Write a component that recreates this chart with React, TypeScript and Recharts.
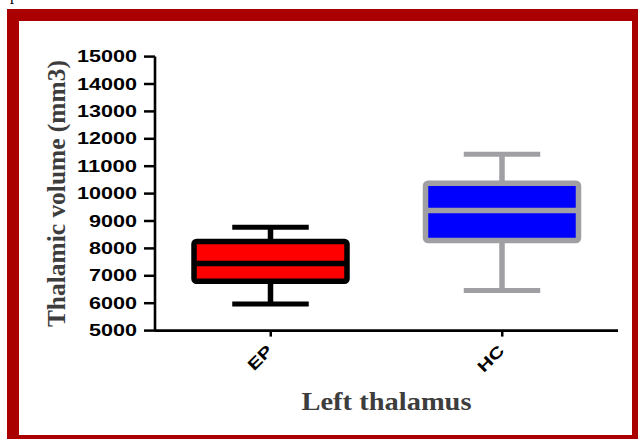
import React from 'react';
import { BarChart, Bar, XAxis, YAxis, Label } from 'recharts';

const categories = ['EP', 'HC'];
const minValues = [5970, 6460];
const q1Values = [6800, 8290];
const medianValues = [7450, 9380];
const q3Values = [8250, 10380];
const maxValues = [8770, 11440];
const yTicks = [5000, 6000, 7000, 8000, 9000, 10000, 11000, 12000, 13000, 14000, 15000];

const boxStyles: Record<string, { fill: string; stroke: string }> = {
  EP: { fill: '#ff0000', stroke: '#000000' },
  HC: { fill: '#0000ff', stroke: '#a0a0a4' },
};

const data = categories.map((name, i) => ({
  name,
  min: minValues[i],
  q1: q1Values[i],
  median: medianValues[i],
  q3: q3Values[i],
  max: maxValues[i],
  range: [minValues[i], maxValues[i]],
}));

const BoxShape = (props: any) => {
  const { x, y, width, height, payload } = props;
  const top = Math.min(y, y + height);
  const bottom = Math.max(y, y + height);
  const span = bottom - top;
  const py = (v: number) => bottom - ((v - payload.min) / (payload.max - payload.min)) * span;
  const cx = x + width / 2;
  const capHalf = width / 4;
  const st = boxStyles[payload.name];
  return (
    <g>
      <line x1={cx} x2={cx} y1={py(payload.max)} y2={py(payload.q3)} stroke={st.stroke} strokeWidth={5.5} />
      <line x1={cx} x2={cx} y1={py(payload.q1)} y2={py(payload.min)} stroke={st.stroke} strokeWidth={5.5} />
      <line x1={cx - capHalf} x2={cx + capHalf} y1={py(payload.max)} y2={py(payload.max)} stroke={st.stroke} strokeWidth={5} />
      <line x1={cx - capHalf} x2={cx + capHalf} y1={py(payload.min)} y2={py(payload.min)} stroke={st.stroke} strokeWidth={5} />
      <rect
        x={x}
        y={py(payload.q3)}
        width={width}
        height={py(payload.q1) - py(payload.q3)}
        fill={st.fill}
        stroke={st.stroke}
        strokeWidth={5.5}
        rx={2.5}
      />
      <line x1={x} x2={x + width} y1={py(payload.median)} y2={py(payload.median)} stroke={st.stroke} strokeWidth={5.5} />
    </g>
  );
};

const YTick = (props: any) => {
  const { x, y, payload } = props;
  const s = String(payload.value);
  return (
    <text
      x={x}
      y={y}
      dy="0.36em"
      textAnchor="end"
      fontFamily="'Liberation Sans', Arial, sans-serif"
      fontWeight="bold"
      fontSize={15.8}
      fill="#000"
      textLength={s.length * 12}
      lengthAdjust="spacingAndGlyphs"
    >
      {s}
    </text>
  );
};

const XTick = (props: any) => {
  const { x, y, payload } = props;
  const s = String(payload.value);
  const ax = x + 3;
  const ay = y + 13;
  return (
    <text
      x={ax}
      y={ay}
      textAnchor="end"
      transform={`rotate(-45, ${ax}, ${ay})`}
      fontFamily="'Liberation Sans', Arial, sans-serif"
      fontWeight="bold"
      fontSize={15.8}
      fill="#000"
      textLength={s === 'EP' ? 28 : 30.5}
      lengthAdjust="spacingAndGlyphs"
    >
      {s}
    </text>
  );
};

export default function App() {
  return (
    <div style={{ position: 'absolute', left: 0, top: 0, width: 638, height: 439, overflow: 'hidden', background: '#fff' }}>
      <svg width={40} height={10} style={{ position: 'absolute', left: 0, top: 0 }}>
        <text x={10} y={0} fontFamily="'Liberation Serif', 'Times New Roman', serif" fontSize={16} fill="#000">
          p
        </text>
      </svg>
      <div
        style={{
          position: 'absolute',
          left: 7,
          top: 9,
          width: 631,
          height: 430,
          boxSizing: 'border-box',
          borderStyle: 'solid',
          borderColor: '#aa0000',
          borderLeftWidth: 12,
          borderTopWidth: 12,
          borderRightWidth: 6,
          borderBottomWidth: 4,
          background: '#fff',
        }}
      />
      <div style={{ position: 'absolute', left: 0, top: 0 }}>
        <BarChart width={638} height={439} data={data} margin={{ top: 56.6, right: 20, left: 0, bottom: 0 }}>
          <XAxis
            dataKey="name"
            type="category"
            height={108.4}
            axisLine={{ stroke: '#000', strokeWidth: 2.6 }}
            tickLine={{ stroke: '#000', strokeWidth: 2.5 }}
            tickSize={6}
            tickMargin={2}
            tick={<XTick />}
            interval={0}
          >
            <Label
              content={(p: any) => {
                const vb = p.viewBox || { x: 155, y: 330.6, width: 463 };
                return (
                  <text
                    x={vb.x + vb.width / 2}
                    y={vb.y + 79.4}
                    textAnchor="middle"
                    fontFamily="'Liberation Serif', 'Times New Roman', serif"
                    fontWeight="bold"
                    fontSize={26}
                    fill="#3d3d3d"
                    textLength={170}
                    lengthAdjust="spacingAndGlyphs"
                  >
                    Left thalamus
                  </text>
                );
              }}
            />
          </XAxis>
          <YAxis
            type="number"
            width={155}
            domain={[5000, 15000]}
            ticks={yTicks}
            interval={0}
            axisLine={{ stroke: '#000', strokeWidth: 2.6 }}
            tickLine={{ stroke: '#000', strokeWidth: 2.5 }}
            tickSize={11}
            tickMargin={7}
            tick={<YTick />}
          >
            <Label
              content={(p: any) => {
                const vb = p.viewBox || { x: 0, y: 56.6, width: 155, height: 274 };
                const cy = vb.y + vb.height / 2 - 0;
                const lx = 65;
                return (
                  <text
                    x={lx}
                    y={cy}
                    transform={`rotate(-90, ${lx}, ${cy})`}
                    textAnchor="middle"
                    fontFamily="'Liberation Serif', 'Times New Roman', serif"
                    fontWeight="bold"
                    fontSize={25}
                    fill="#3d3d3d"
                    textLength={267}
                    lengthAdjust="spacingAndGlyphs"
                  >
                    Thalamic volume (mm3)
                  </text>
                );
              }}
            />
          </YAxis>
          <Bar dataKey="range" barSize={153} shape={BoxShape} isAnimationActive={false} />
        </BarChart>
      </div>
    </div>
  );
}
